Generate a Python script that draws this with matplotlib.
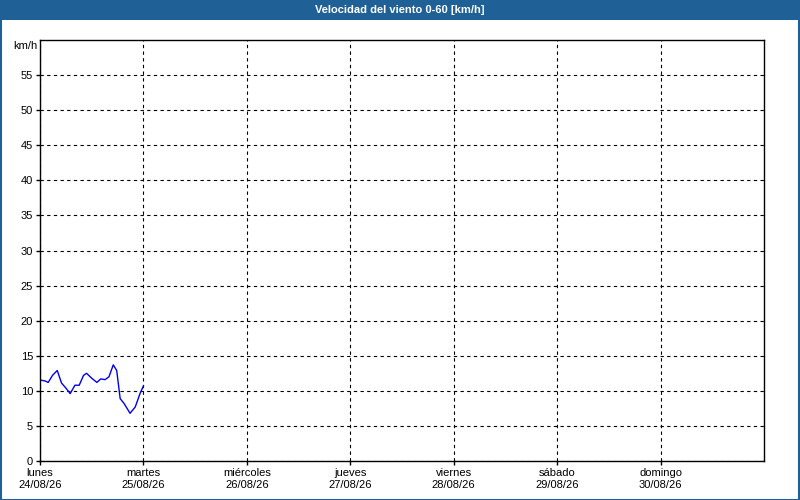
import matplotlib
matplotlib.use("Agg")
import matplotlib.pyplot as plt
from matplotlib.patches import Rectangle

# hourly wind speed on monday (hours since 24/08 00:00)
hours = [0.4, 1.2, 1.9, 2.9, 4.0, 5.0, 6.0, 7.0, 8.1, 9.1, 10.1, 10.8, 12.0,
         13.2, 14.1, 15.1, 16.0, 17.0, 17.8, 18.6, 19.5, 20.9, 22.1, 23.2, 24.0]
speed = [11.5, 11.4, 11.2, 12.2, 12.9, 11.1, 10.4, 9.6, 10.8, 10.8, 12.2, 12.5, 11.8,
         11.2, 11.7, 11.6, 12.0, 13.7, 12.9, 8.9, 8.2, 6.8, 7.7, 9.6, 10.7]

day_names = ["lunes", "martes", "miércoles", "jueves", "viernes", "sábado", "domingo"]
day_dates = ["24/08/26", "25/08/26", "26/08/26", "27/08/26", "28/08/26", "29/08/26", "30/08/26"]
y_ticks = list(range(0, 60, 5))

plt.rcParams['font.family'] = ['Liberation Sans', 'DejaVu Sans']
plt.rcParams['font.size'] = 8

fig = plt.figure(figsize=(8, 5), dpi=100)
fig.patch.set_facecolor("white")

# title bar + outer frame
fig.add_artist(Rectangle((0, 0.96), 1, 0.04, transform=fig.transFigure,
                         facecolor="#1f6196", edgecolor="none"))
fig.add_artist(Rectangle((0.001, 0.001), 0.998, 0.998, transform=fig.transFigure,
                         facecolor="none", edgecolor="#1f6196", linewidth=1.5))
fig.text(0.5, 0.98, "Velocidad del viento 0-60 [km/h]", color="white",
         fontweight="bold", ha="center", va="center", fontsize=8)

ax = fig.add_axes([0.05, 0.078, 0.905, 0.842])
x_days = [h / 24 for h in hours]
ax.plot(x_days, speed, color="#0000ee", linewidth=1)

ax.set_xlim(0, 7)
ax.set_ylim(0, 60)
ax.set_yticks(y_ticks)
ax.set_xticks(range(7))
ax.set_xticklabels([n + "\n" + d for n, d in zip(day_names, day_dates)])
ax.tick_params(axis="both", length=3, width=1, pad=2, labelsize=8)
ax.grid(True, color="black", linestyle=(0, (3, 3)), linewidth=0.8)
for s in ax.spines.values():
    s.set_linewidth(1)
fig.text(25 / 800, 1 - 46 / 500, "km/h", ha="center", va="center", fontsize=8)

fig.savefig("out.png", dpi=100)
